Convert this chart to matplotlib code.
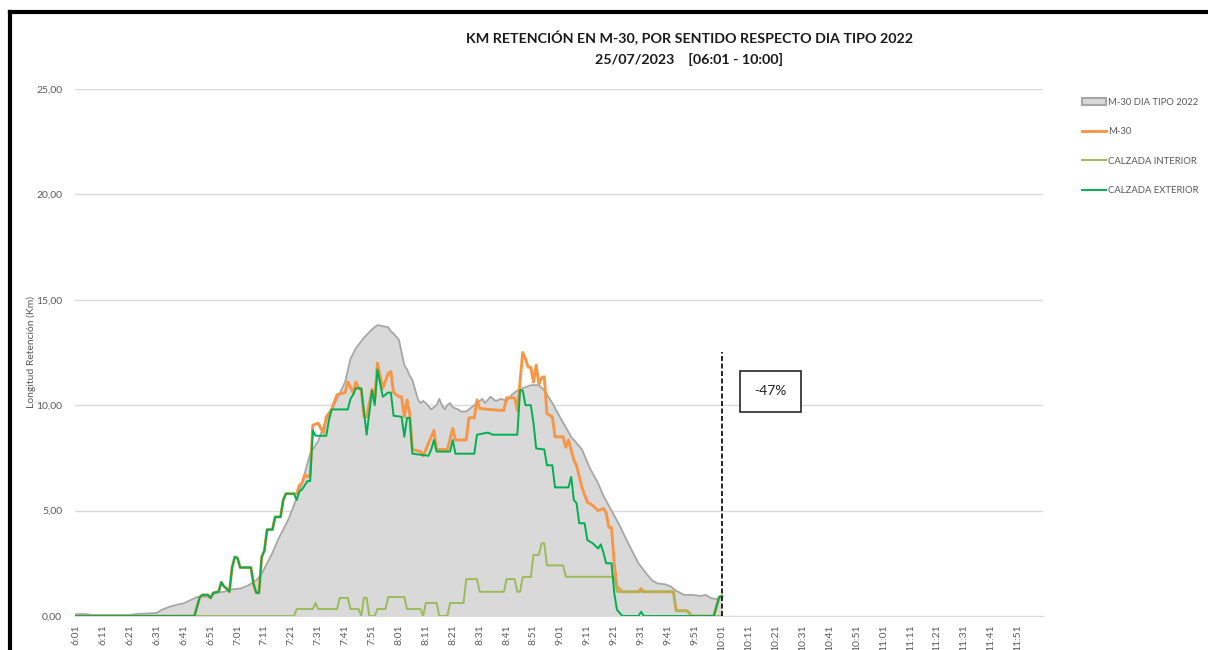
import matplotlib
matplotlib.use("Agg")
import matplotlib.pyplot as plt
from matplotlib.patches import Patch
from matplotlib.lines import Line2D

plt.rcParams['font.family'] = ['Lato', 'DejaVu Sans']

# minutes after 6:01 -> km
tipo_t = [0, 3, 6, 10, 15, 20, 23, 27, 30, 32, 35, 38, 40, 42, 45, 50, 52, 55, 57, 61, 64, 67, 69, 71, 73,
          75, 77, 79, 82, 84, 87, 90, 92, 95, 97, 100, 102, 104, 107, 110, 112, 114, 116, 117, 118, 120, 121,
          122, 123, 124, 125, 127, 128, 129, 130, 132, 134, 135, 136, 137, 138, 139, 140, 142, 143, 145, 147,
          149, 151, 152, 154, 156, 158, 160, 162, 164, 166, 169, 172, 174, 176, 177, 180, 184, 188, 191, 194,
          196, 199, 202, 205, 207, 209, 212, 214, 216, 219, 221, 223, 226, 229, 232, 234, 236, 238, 240]
tipo_v = [0.08, 0.1, 0.05, 0.05, 0.05, 0.05, 0.1, 0.12, 0.15, 0.3, 0.45, 0.55, 0.6, 0.72, 0.9, 0.92, 1.1, 1.15,
          1.25, 1.3, 1.45, 1.7, 2.0, 2.5, 3.0, 3.6, 4.1, 4.6, 5.6, 6.3, 7.7, 8.3, 9.0, 9.8, 10.3, 11.1, 12.2,
          12.7, 13.2, 13.6, 13.8, 13.75, 13.7, 13.5, 13.4, 13.1, 12.5, 11.9, 11.7, 11.4, 11.2, 10.3, 10.1, 10.2,
          10.1, 9.8, 10.0, 10.3, 10.0, 9.8, 10.0, 10.1, 9.9, 9.8, 9.7, 9.7, 9.9, 10.1, 10.3, 10.1, 10.4, 10.2,
          10.3, 10.2, 10.5, 10.7, 10.8, 10.95, 10.95, 10.7, 10.3, 10.1, 9.4, 8.5, 7.9, 7.0, 6.3, 5.7, 5.0, 4.3,
          3.5, 3.0, 2.5, 2.0, 1.7, 1.55, 1.5, 1.4, 1.2, 1.0, 1.0, 0.95, 1.0, 0.85, 0.8, 0.9]

ext_t = [0, 44, 46, 47, 49, 50, 51, 53, 54, 55, 56, 57, 58, 59, 60, 61, 65, 66, 67, 68, 69, 70, 71, 73, 74, 76,
         77, 78, 81, 82, 83, 84, 85, 86, 87, 88, 89, 93, 94, 95, 101, 102, 103, 104, 106, 108, 110, 111, 112,
         114, 116, 117, 118, 121, 122, 123, 124, 125, 131, 132, 133, 134, 139, 140, 141, 148, 149, 153, 155,
         164, 165, 166, 167, 169, 170, 171, 174, 175, 177, 178, 183, 184, 185, 186, 187, 189, 190, 192, 194,
         195, 196, 197, 199, 200, 201, 203, 209, 210, 211, 237, 239, 240]
ext_v = [0, 0, 0.9, 1.0, 1.0, 0.85, 1.1, 1.15, 1.6, 1.4, 1.3, 1.15, 2.3, 2.8, 2.75, 2.3, 2.3, 1.5, 1.1, 1.1, 2.8,
         3.1, 4.1, 4.1, 4.7, 4.7, 5.5, 5.8, 5.8, 5.5, 5.9, 6.0, 6.2, 6.4, 6.4, 8.8, 8.55, 8.55, 9.3, 9.8, 9.8,
         10.3, 10.5, 10.8, 10.8, 8.6, 10.7, 10.0, 11.7, 10.4, 10.6, 10.6, 9.5, 9.45, 8.5, 9.4, 9.4, 7.7, 7.6,
         7.9, 8.35, 7.8, 7.8, 8.35, 7.7, 7.7, 8.6, 8.7, 8.6, 8.6, 10.7, 10.7, 10.0, 10.0, 9.15, 7.95, 7.9, 7.15,
         7.15, 6.1, 6.1, 6.6, 5.5, 5.35, 4.4, 4.4, 3.6, 3.45, 3.2, 3.4, 3.0, 2.5, 2.5, 1.1, 0.3, 0, 0, 0.2, 0,
         0, 0.9, 0.95]

m30_t = [0, 44, 46, 47, 49, 50, 51, 53, 54, 55, 56, 57, 58, 59, 60, 61, 65, 66, 67, 68, 69, 70, 71, 73, 74, 76,
         77, 78, 81, 82, 83, 84, 85, 86, 87, 88, 90, 91, 92, 93, 95, 97, 100, 101, 103, 104, 105, 106, 107,
         108, 110, 111, 112, 114, 116, 117, 118, 120, 121, 122, 123, 124, 125, 128, 129, 131, 133, 134, 138,
         140, 141, 145, 146, 148, 149, 150, 153, 159, 160, 163, 164, 166, 167, 168, 169, 170, 171, 172, 173,
         174, 175, 177, 178, 181, 182, 183, 185, 186, 188, 190, 192, 194, 196, 197, 198, 199, 200, 201, 203,
         209, 210, 211, 222, 223, 227, 229, 237, 239, 240]
m30_v = [0, 0, 0.9, 1.0, 1.0, 0.85, 1.1, 1.15, 1.6, 1.4, 1.3, 1.15, 2.3, 2.8, 2.75, 2.3, 2.3, 1.5, 1.1, 1.1, 2.8,
         3.1, 4.1, 4.1, 4.7, 4.7, 5.5, 5.8, 5.8, 5.8, 6.2, 6.3, 6.7, 6.6, 6.7, 9.05, 9.15, 8.9, 8.7, 9.45, 9.8,
         10.5, 10.6, 11.1, 10.6, 11.1, 10.8, 10.75, 9.45, 9.45, 10.75, 10.25, 12.0, 10.8, 11.5, 11.6, 10.6,
         10.4, 10.4, 9.45, 10.25, 9.6, 7.9, 7.8, 7.6, 8.2, 8.8, 7.9, 7.9, 8.9, 8.35, 8.35, 9.4, 9.4, 10.25,
         9.85, 9.8, 9.75, 10.35, 10.35, 9.75, 12.5, 12.2, 11.8, 11.8, 11.1, 11.9, 11.0, 11.3, 11.35, 9.6, 9.45,
         8.5, 8.5, 8.0, 8.35, 7.4, 7.15, 6.1, 5.4, 5.25, 5.0, 5.1, 4.9, 4.2, 4.2, 2.5, 1.4, 1.15, 1.15, 1.3,
         1.15, 1.15, 0.25, 0.25, 0, 0, 0.9, 0.95]

int_t = [0, 81, 82, 88, 89, 90, 97, 98, 101, 102, 105, 106, 107, 108, 109, 111, 112, 115, 116, 122, 123, 128,
         129, 130, 134, 135, 138, 139, 144, 145, 149, 150, 159, 160, 163, 164, 165, 166, 169, 170, 172, 173,
         174, 175, 181, 182, 200, 201, 222, 223, 227, 229, 240]
int_v = [0, 0, 0.33, 0.33, 0.62, 0.33, 0.33, 0.86, 0.86, 0.33, 0.33, 0, 0.86, 0.86, 0, 0, 0.33, 0.33, 0.9, 0.9,
         0.33, 0.33, 0, 0.62, 0.62, 0, 0, 0.62, 0.62, 1.75, 1.75, 1.15, 1.15, 1.75, 1.75, 1.15, 1.15, 1.85,
         1.85, 2.9, 2.9, 3.45, 3.45, 2.4, 2.4, 1.86, 1.86, 1.15, 1.15, 0.25, 0.25, 0, 0]

tick_labels = ['6:01', '6:11', '6:21', '6:31', '6:41', '6:51', '7:01', '7:11', '7:21', '7:31', '7:41', '7:51',
               '8:01', '8:11', '8:21', '8:31', '8:41', '8:51', '9:01', '9:11', '9:21', '9:31', '9:41', '9:51',
               '10:01', '10:11', '10:21', '10:31', '10:41', '10:51', '11:01', '11:11', '11:21', '11:31',
               '11:41', '11:51']
cut_minute = 240
cut_top = 12.5
change_label = '-47%'

gray_txt = '#595959'
fig = plt.figure(figsize=(12.08, 6.5), dpi=100)
ax = fig.add_axes([0.0618, 0.0523, 0.8020, 0.8108])

ax.fill_between(tipo_t, tipo_v, color='#d9d9d9', lw=0, zorder=2)
ax.plot(tipo_t, tipo_v, color='#a6a6a6', lw=1.3, zorder=3)
ax.plot(m30_t, m30_v, color='#f79646', lw=2.1, zorder=4)
ax.plot(int_t, int_v, color='#9bbb59', lw=1.4, zorder=5)
ax.plot(ext_t, ext_v, color='#00b050', lw=1.4, zorder=6)

ax.plot([cut_minute, cut_minute], [0, cut_top], color='black', lw=1.2, ls=(0, (3, 1.5)), zorder=7)
ax.text(cut_minute + 18, 10.65, change_label, fontsize=10, color='#262626', ha='center', va='center',
        bbox=dict(boxstyle='square,pad=1.05', fc='white', ec='#262626', lw=1.2), zorder=8)

ax.set_xlim(-0.5, 359.5)
ax.set_ylim(0, 25)
ax.set_xticks(range(0, 360, 10))
ax.set_xticklabels(tick_labels, rotation=90, fontsize=7.5, color=gray_txt)
ax.set_yticks([0, 5, 10, 15, 20, 25])
ax.set_yticklabels(['0,00', '5,00', '10,00', '15,00', '20,00', '25,00'], fontsize=7.5, color=gray_txt)
ax.tick_params(axis='x', length=0, pad=6)
ax.tick_params(axis='y', length=0, pad=9)
ax.grid(axis='y', color='#d9d9d9', lw=1)
ax.set_axisbelow(True)
for s in ['top', 'right', 'left']:
    ax.spines[s].set_visible(False)
ax.spines['bottom'].set_color('#d9d9d9')
ax.set_ylabel('Longitud Retención (Km)', fontsize=7.5, color=gray_txt, labelpad=0)

fig.text(0.571, 0.942, 'KM RETENCIÓN EN M-30, POR SENTIDO RESPECTO DIA TIPO 2022', ha='center', va='center',
         fontsize=10.3, fontweight='bold', color='#1a1a1a')
fig.text(0.570, 0.908, '25/07/2023    [06:01 - 10:00]', ha='center', va='center',
         fontsize=10.3, fontweight='bold', color='#1a1a1a')

handles = [Patch(facecolor='#d9d9d9', edgecolor='#a6a6a6', lw=1.5),
           Line2D([], [], color='#f79646', lw=2.1),
           Line2D([], [], color='#9bbb59', lw=1.4),
           Line2D([], [], color='#00b050', lw=1.4)]
labels = ['M-30 DIA TIPO 2022', 'M-30', 'CALZADA INTERIOR', 'CALZADA EXTERIOR']
leg = fig.legend(handles, labels, loc='upper left', bbox_to_anchor=(0.8925, 0.855), frameon=False,
                 fontsize=6.8, labelspacing=2.15, handlelength=2.6, handletextpad=0.15, borderaxespad=0)
for t in leg.get_texts():
    t.set_color(gray_txt)

# outer frame (top and left edges visible)
fig.add_artist(Line2D([10 / 1208, 1.0], [1 - 12 / 650, 1 - 12 / 650], color='black', lw=3,
                      transform=fig.transFigure))
fig.add_artist(Line2D([10 / 1208, 10 / 1208], [0, 1 - 12 / 650], color='black', lw=3,
                      transform=fig.transFigure))

plt.savefig('out.png', dpi=100)
